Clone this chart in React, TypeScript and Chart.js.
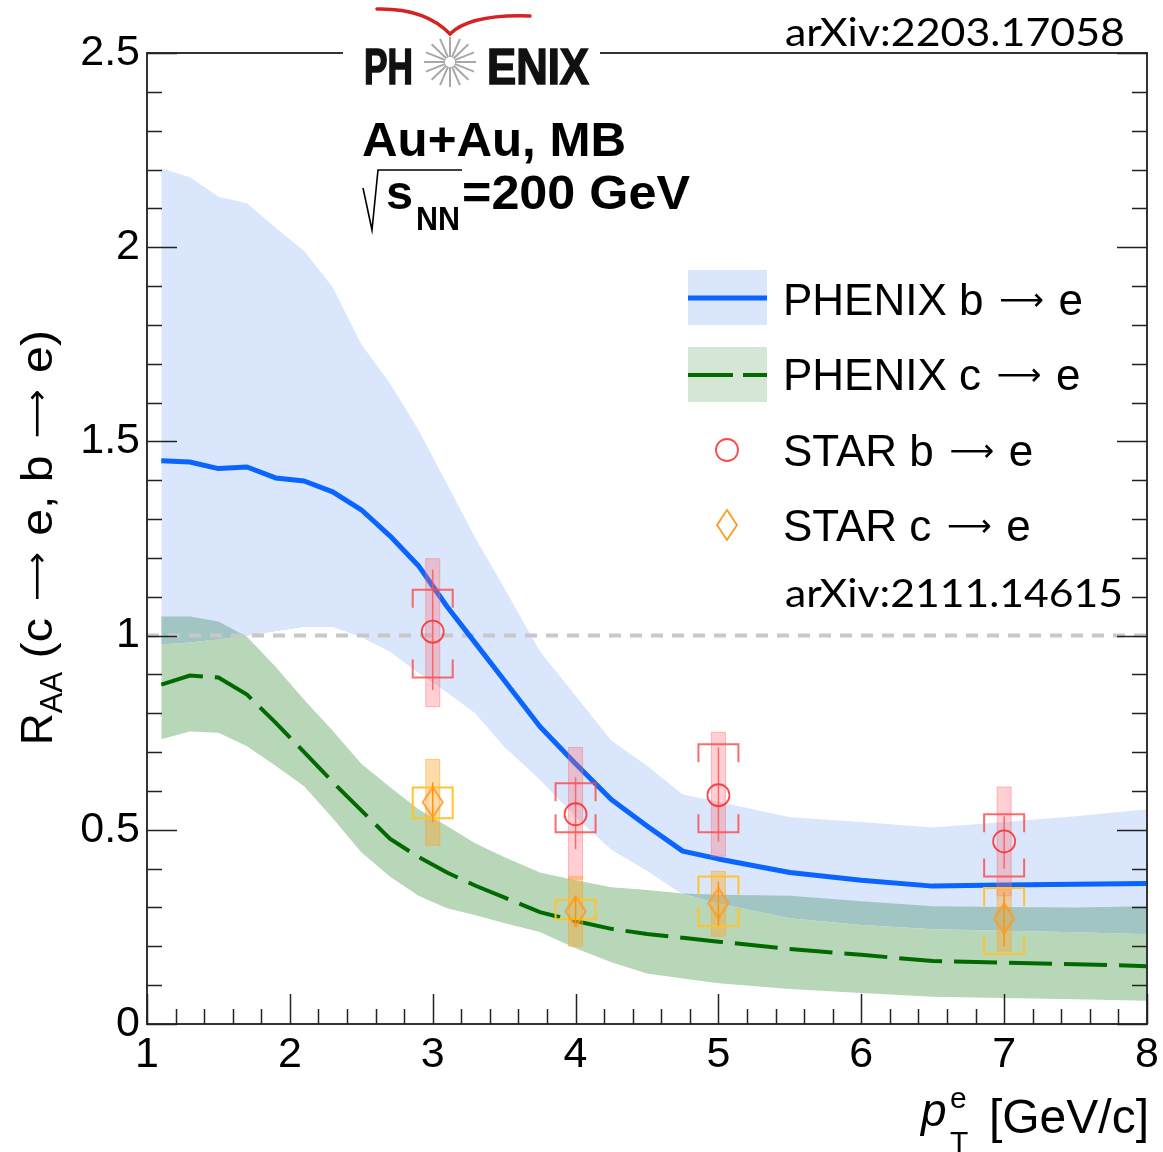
import React, { useEffect, useRef } from 'react';
import { Chart, registerables } from 'chart.js';

Chart.register(...registerables);

// ---- PHENIX bands / central curves (shared pT grid) ----
const gridX = [1.1, 1.3, 1.5, 1.7, 1.9, 2.1, 2.3, 2.5, 2.7, 2.9, 3.1, 3.3, 3.5, 3.75, 4.0, 4.25, 4.5, 4.75, 5.0, 5.5, 6.0, 6.5, 7.0, 7.5, 8.0];
const phenixB = [1.45, 1.447, 1.43, 1.434, 1.406, 1.398, 1.37, 1.324, 1.257, 1.18, 1.075, 0.98, 0.885, 0.766, 0.67, 0.578, 0.51, 0.445, 0.425, 0.39, 0.37, 0.355, 0.358, 0.36, 0.362];
const phenixBUpper = [2.203, 2.18, 2.13, 2.113, 2.05, 1.99, 1.897, 1.75, 1.65, 1.53, 1.39, 1.25, 1.123, 0.96, 0.845, 0.73, 0.665, 0.591, 0.572, 0.532, 0.52, 0.506, 0.52, 0.535, 0.553];
const phenixBLower = [0.977, 0.982, 0.99, 1.0, 1.012, 1.023, 1.023, 0.997, 0.96, 0.905, 0.855, 0.8, 0.715, 0.63, 0.535, 0.45, 0.395, 0.335, 0.31, 0.272, 0.255, 0.244, 0.24, 0.236, 0.231];
const phenixC = [0.874, 0.897, 0.892, 0.848, 0.776, 0.7, 0.623, 0.55, 0.477, 0.43, 0.39, 0.356, 0.326, 0.288, 0.265, 0.245, 0.232, 0.222, 0.212, 0.193, 0.178, 0.162, 0.158, 0.154, 0.149];
const phenixCUpper = [1.049, 1.049, 1.036, 0.997, 0.92, 0.835, 0.755, 0.67, 0.61, 0.553, 0.51, 0.465, 0.43, 0.39, 0.37, 0.352, 0.345, 0.336, 0.333, 0.33, 0.316, 0.303, 0.301, 0.3, 0.303];
const phenixCLower = [0.733, 0.753, 0.75, 0.715, 0.665, 0.612, 0.53, 0.442, 0.38, 0.33, 0.298, 0.28, 0.26, 0.237, 0.195, 0.159, 0.13, 0.117, 0.105, 0.09, 0.08, 0.07, 0.067, 0.064, 0.06];

// ---- STAR points ----
const starX = [3, 4, 5, 7];
const starB = [1.01, 0.54, 0.589, 0.47];
const starBStatLo = [0.86, 0.45, 0.47, 0.4];
const starBStatHi = [1.17, 0.635, 0.712, 0.535];
const starBSysLo = [0.892, 0.494, 0.494, 0.38];
const starBSysHi = [1.118, 0.62, 0.72, 0.54];
const starBBoxLo = [0.817, 0.373, 0.432, 0.33];
const starBBoxHi = [1.198, 0.712, 0.751, 0.61];
const starC = [0.571, 0.29, 0.311, 0.272];
const starCStatLo = [0.519, 0.25, 0.252, 0.2];
const starCStatHi = [0.622, 0.33, 0.367, 0.34];
const starCSysLo = [0.53, 0.27, 0.252, 0.18];
const starCSysHi = [0.609, 0.32, 0.38, 0.35];
const starCBoxLo = [0.46, 0.2, 0.226, 0.188];
const starCBoxHi = [0.681, 0.38, 0.393, 0.347];

const xTicks = [1, 2, 3, 4, 5, 6, 7, 8];
const yTicks = [0, 0.5, 1, 1.5, 2, 2.5];
const refLineX = [1, 8];
const refLineY = [1, 1];

const legendLabels = ['PHENIX b \u2192 e', 'PHENIX c \u2192 e', 'STAR b \u2192 e', 'STAR c \u2192 e'];

const SANS = '"Liberation Sans", Arial, sans-serif';
const ARROW_FONT_FAMILY = '"DejaVu Sans", sans-serif';
const LONG_ARROW = '\u27F6';
const BLUE_BAND = '#d9e6fb';
const GREEN_BAND = '#b8d6b8';
const TEAL = '#a0c5c3';
const BLUE_LINE = '#0a64ff';
const GREEN_LINE = '#006a00';
const DIAMOND = '#ff9a20';
const CIRCLE = 'rgba(255,40,40,0.85)';

function makeDiamond(): HTMLCanvasElement {
  const c = document.createElement('canvas');
  c.width = 24;
  c.height = 34;
  const g = c.getContext('2d')!;
  g.strokeStyle = DIAMOND;
  g.lineWidth = 1.8;
  g.beginPath();
  g.moveTo(12, 2);
  g.lineTo(22, 17);
  g.lineTo(12, 32);
  g.lineTo(2, 17);
  g.closePath();
  g.stroke();
  return c;
}

function fitText(ctx: CanvasRenderingContext2D, text: string, x: number, y: number, width: number, stroke = 0) {
  const w = ctx.measureText(text).width;
  ctx.save();
  ctx.translate(x, y);
  ctx.scale(width / w, 1);
  ctx.textAlign = 'left';
  ctx.fillText(text, 0, 0);
  if (stroke > 0) {
    ctx.lineWidth = stroke;
    ctx.strokeStyle = ctx.fillStyle as string;
    ctx.strokeText(text, 0, 0);
  }
  ctx.restore();
}

// draws a long thin arrow glyph, ~targetW wide, centred above the baseline; returns advance
function arrowGlyph(ctx: CanvasRenderingContext2D, x: number, y: number, size: number, targetW: number, draw: boolean): number {
  ctx.font = `${size}px ${ARROW_FONT_FAMILY}`;
  const m = ctx.measureText(LONG_ARROW);
  const inkW = (m.actualBoundingBoxRight + m.actualBoundingBoxLeft) || m.width;
  const k = targetW / inkW;
  const fs = size * k;
  ctx.font = `${fs}px ${ARROW_FONT_FAMILY}`;
  const m2 = ctx.measureText(LONG_ARROW);
  const a = m2.actualBoundingBoxAscent || 0;
  const d = m2.actualBoundingBoxDescent || 0;
  const lift = size * 0.33;
  const gap = size * 0.1;
  if (draw) {
    const yy = y - lift + (a - d) / 2;
    ctx.fillText(LONG_ARROW, x + gap + (m2.actualBoundingBoxLeft || 0), yy);
  }
  return targetW + 2 * gap;
}

// draws text where "→" is rendered as a long arrow; returns width
function arrowText(ctx: CanvasRenderingContext2D, text: string, x: number, y: number, size: number, draw = true): number {
  const parts = text.split('\u2192');
  let cx = x;
  parts.forEach((p, i) => {
    ctx.font = `${size}px ${SANS}`;
    if (draw) ctx.fillText(p, cx, y);
    cx += ctx.measureText(p).width;
    if (i < parts.length - 1) {
      cx += arrowGlyph(ctx, cx, y, size, size * 0.95, draw);
    }
  });
  return cx - x;
}

function drawStarErrors(chart: any, xsArr: number[], lo: number[], hi: number[], sLo: number[], sHi: number[], bLo: number[], bHi: number[], col: { box: string; boxEdge: string; bracket: string; stat: string }) {
  const ctx: CanvasRenderingContext2D = chart.ctx;
  const xs = chart.scales.x;
  const ys = chart.scales.y;
  ctx.save();
  for (let i = 0; i < xsArr.length; i++) {
    const px = xs.getPixelForValue(xsArr[i]);
    const y1 = ys.getPixelForValue(bHi[i]);
    const y2 = ys.getPixelForValue(bLo[i]);
    ctx.fillStyle = col.box;
    ctx.fillRect(px - 7, y1, 14, y2 - y1);
    ctx.strokeStyle = col.boxEdge;
    ctx.lineWidth = 1;
    ctx.strokeRect(px - 7, y1, 14, y2 - y1);
    const t = ys.getPixelForValue(sHi[i]);
    const b = ys.getPixelForValue(sLo[i]);
    const leg = Math.min(18, (b - t) / 2);
    ctx.strokeStyle = col.bracket;
    ctx.lineWidth = 2;
    ctx.beginPath();
    ctx.moveTo(px - 20, t + leg);
    ctx.lineTo(px - 20, t);
    ctx.lineTo(px + 20, t);
    ctx.lineTo(px + 20, t + leg);
    ctx.moveTo(px - 20, b - leg);
    ctx.lineTo(px - 20, b);
    ctx.lineTo(px + 20, b);
    ctx.lineTo(px + 20, b - leg);
    ctx.stroke();
    ctx.strokeStyle = col.stat;
    ctx.lineWidth = 1.5;
    ctx.beginPath();
    ctx.moveTo(px, ys.getPixelForValue(hi[i]));
    ctx.lineTo(px, ys.getPixelForValue(lo[i]));
    ctx.stroke();
  }
  ctx.restore();
}

function drawOverlay(chart: any, diamond: HTMLCanvasElement) {
  const ctx: CanvasRenderingContext2D = chart.ctx;
  const xs = chart.scales.x;
  const ys = chart.scales.y;
  const { left, right, top, bottom } = chart.chartArea;
  ctx.save();
  ctx.textBaseline = 'alphabetic';

  // frame
  ctx.strokeStyle = '#333';
  ctx.lineWidth = 2;
  ctx.strokeRect(left, top, right - left, bottom - top);

  // ticks
  ctx.strokeStyle = '#222';
  ctx.lineWidth = 1.5;
  ctx.beginPath();
  for (let v = 10; v <= 80; v += 2) {
    const px = Math.round(xs.getPixelForValue(v / 10)) + 0.5;
    const len = v % 10 === 0 ? 30 : 15;
    ctx.moveTo(px, bottom);
    ctx.lineTo(px, bottom - len);
  }
  for (let v = 0; v <= 25; v++) {
    const py = Math.round(ys.getPixelForValue(v / 10)) + 0.5;
    const len = v % 5 === 0 ? 30 : 15;
    ctx.moveTo(left, py);
    ctx.lineTo(left + len, py);
    ctx.moveTo(right, py);
    ctx.lineTo(right - len, py);
  }
  ctx.stroke();

  // PHENIX logo
  ctx.fillStyle = '#fff';
  ctx.fillRect(343, 46, 257, 12);
  ctx.fillStyle = '#111';
  ctx.font = `bold 50px ${SANS}`;
  fitText(ctx, 'PH', 364, 84, 49, 1.6);
  fitText(ctx, 'ENIX', 487, 84, 102, 1.6);
  ctx.strokeStyle = '#a8a8a8';
  ctx.lineWidth = 2;
  ctx.beginPath();
  for (let k = 0; k < 16; k++) {
    const a = (k * Math.PI) / 8;
    ctx.moveTo(450 + 5 * Math.cos(a), 62 + 5 * Math.sin(a));
    ctx.lineTo(450 + 26 * Math.cos(a), 62 + 25 * Math.sin(a));
  }
  ctx.stroke();
  ctx.strokeStyle = '#d42323';
  ctx.lineWidth = 3.5;
  ctx.lineCap = 'round';
  ctx.beginPath();
  ctx.moveTo(377, 9);
  ctx.quadraticCurveTo(425, 8, 450, 34);
  ctx.quadraticCurveTo(470, 14, 530, 16);
  ctx.stroke();
  ctx.lineCap = 'butt';

  // system labels
  ctx.fillStyle = '#000';
  ctx.font = `bold 48px ${SANS}`;
  fitText(ctx, 'Au+Au, MB', 362, 156, 264);
  ctx.strokeStyle = '#000';
  ctx.lineWidth = 1.6;
  ctx.beginPath();
  ctx.moveTo(363, 188);
  ctx.lineTo(372, 230);
  ctx.lineTo(378, 170);
  ctx.lineTo(462, 170);
  ctx.stroke();
  fitText(ctx, 's', 386, 209, 27);
  ctx.font = `bold 34px ${SANS}`;
  fitText(ctx, 'NN', 416, 230, 44);
  ctx.font = `bold 48px ${SANS}`;
  fitText(ctx, '=200 GeV', 462, 209, 228);

  // arXiv labels
  ctx.font = `39px Lato, "Open Sans", sans-serif`;
  fitText(ctx, 'arXiv:2203.17058', 785, 46, 340);
  fitText(ctx, 'arXiv:2111.14615', 785, 607, 338);

  // legend
  ctx.fillStyle = BLUE_BAND;
  ctx.fillRect(688, 270, 79, 55);
  ctx.strokeStyle = BLUE_LINE;
  ctx.lineWidth = 5;
  ctx.beginPath();
  ctx.moveTo(688, 298);
  ctx.lineTo(767, 298);
  ctx.stroke();
  ctx.fillStyle = '#d5e6d5';
  ctx.fillRect(688, 347, 79, 55);
  ctx.strokeStyle = GREEN_LINE;
  ctx.lineWidth = 4;
  ctx.beginPath();
  ctx.moveTo(688, 375);
  ctx.lineTo(733, 375);
  ctx.moveTo(743, 375);
  ctx.lineTo(767, 375);
  ctx.stroke();
  ctx.strokeStyle = CIRCLE;
  ctx.lineWidth = 1.8;
  ctx.beginPath();
  ctx.arc(727, 450, 11, 0, Math.PI * 2);
  ctx.stroke();
  ctx.drawImage(diamond, 727 - 12, 525 - 17);
  ctx.fillStyle = '#000';
  ctx.textAlign = 'left';
  const baselines = [315, 390, 466, 541];
  legendLabels.forEach((t, i) => arrowText(ctx, t, 783, baselines[i], 44));

  // y-axis title
  ctx.save();
  ctx.translate(52, 745);
  ctx.rotate(-Math.PI / 2);
  ctx.textAlign = 'left';
  ctx.font = `44px ${SANS}`;
  ctx.fillText('R', 0, 0);
  let w = ctx.measureText('R').width;
  ctx.font = `31px ${SANS}`;
  ctx.fillText('AA', w, 10);
  w += ctx.measureText('AA').width;
  const rest = ' (c \u2192 e, b \u2192 e)';
  const rw = arrowText(ctx, rest, 0, 0, 44, false);
  const sx = Math.max(0.9, Math.min(1.1, (415 - w) / rw));
  ctx.save();
  ctx.translate(w, 0);
  ctx.scale(sx, 1);
  arrowText(ctx, rest, 0, 0, 44);
  ctx.restore();
  ctx.restore();

  // x-axis title
  ctx.font = `48px ${SANS}`;
  ctx.textAlign = 'right';
  ctx.fillText('[GeV/c]', 1149, 1133);
  ctx.textAlign = 'left';
  ctx.font = `30px ${SANS}`;
  ctx.fillText('e', 950, 1108);
  ctx.fillText('T', 950, 1152);
  ctx.font = `italic 46px ${SANS}`;
  ctx.fillText('p', 921, 1126);

  ctx.restore();
}

export default function App() {
  const ref = useRef<HTMLCanvasElement>(null);
  useEffect(() => {
    document.body.style.margin = '0';
    const canvas = ref.current!;
    const diamond = makeDiamond();
    const pts = (ys: number[]) => gridX.map((x, i) => ({ x, y: ys[i] }));
    const sp = (ys: number[]) => starX.map((x, i) => ({ x, y: ys[i] }));
    const none = 'rgba(0,0,0,0)';
    const band = (data: any, fill: any) => ({ data, borderColor: none, borderWidth: 1, pointRadius: 0, fill, tension: 0 });

    const chart = new Chart(canvas, {
      type: 'line',
      data: {
        datasets: [
          { label: 'STAR b', data: sp(starB), showLine: false, pointStyle: 'circle', pointRadius: 11, pointBorderColor: CIRCLE, pointBackgroundColor: none, pointBorderWidth: 1.8, borderColor: none, fill: false } as any,
          { label: 'STAR c', data: sp(starC), showLine: false, pointStyle: diamond, pointRadius: 15, borderColor: none, fill: false } as any,
          { label: 'PHENIX b', data: pts(phenixB), borderColor: BLUE_LINE, borderWidth: 5, pointRadius: 0, fill: false, tension: 0, borderJoinStyle: 'round' } as any,
          { label: 'PHENIX c', data: pts(phenixC), borderColor: GREEN_LINE, borderWidth: 4, borderDash: [43, 12], pointRadius: 0, fill: false, tension: 0 } as any,
          { label: 'ref', data: refLineX.map((x, i) => ({ x, y: refLineY[i] })), borderColor: '#c8c8c8', borderWidth: 4, borderDash: [12, 9], pointRadius: 0, fill: false } as any,
          band(pts(phenixCUpper), { target: 7, above: TEAL, below: none }) as any,
          band(pts(phenixBUpper), { target: 7, above: BLUE_BAND, below: BLUE_BAND }) as any,
          band(pts(phenixBLower), false) as any,
          band(pts(phenixCUpper), { target: 9, above: GREEN_BAND, below: GREEN_BAND }) as any,
          band(pts(phenixCLower), false) as any,
        ],
      },
      options: {
        animation: false,
        responsive: false,
        devicePixelRatio: 1,
        events: [],
        layout: { padding: { top: 53, right: 16, left: 0, bottom: 0 } },
        plugins: { legend: { display: false }, tooltip: { enabled: false } },
        scales: {
          x: {
            type: 'linear',
            min: 1,
            max: 8,
            afterFit: (s: any) => { s.height = 128; s.paddingLeft = 0; s.paddingRight = 0; },
            afterBuildTicks: (s: any) => { s.ticks = xTicks.map((v) => ({ value: v })); },
            grid: { display: false, drawTicks: false },
            border: { display: false },
            ticks: { font: { family: SANS, size: 43 }, color: '#000', padding: 5, maxRotation: 0, autoSkip: false, callback: (v: any) => String(v) },
          },
          y: {
            type: 'linear',
            min: 0,
            max: 2.5,
            afterFit: (s: any) => { s.width = 147; s.paddingTop = 0; s.paddingBottom = 0; },
            afterBuildTicks: (s: any) => { s.ticks = yTicks.map((v) => ({ value: v })); },
            grid: { display: false, drawTicks: false },
            border: { display: false },
            ticks: { font: { family: SANS, size: 43 }, color: '#000', padding: 7, callback: (v: any) => String(v) },
          },
        },
      } as any,
      plugins: [
        {
          id: 'overlay',
          beforeDatasetDraw(c: any, args: any) {
            if (args.index !== 1) return;
            drawStarErrors(c, starX, starBStatLo, starBStatHi, starBSysLo, starBSysHi, starBBoxLo, starBBoxHi, {
              box: 'rgba(255,110,120,0.33)', boxEdge: 'rgba(255,110,120,0.45)', bracket: 'rgba(255,70,70,0.8)', stat: 'rgba(255,80,80,0.8)',
            });
            drawStarErrors(c, starX, starCStatLo, starCStatHi, starCSysLo, starCSysHi, starCBoxLo, starCBoxHi, {
              box: 'rgba(255,165,40,0.4)', boxEdge: 'rgba(255,165,40,0.5)', bracket: '#ffc42a', stat: '#ff9500',
            });
          },
          afterDraw(c: any) {
            drawOverlay(c, diamond);
          },
        },
      ],
    });
    return () => chart.destroy();
  }, []);
  return <canvas ref={ref} width={1163} height={1152} style={{ display: 'block', width: 1163, height: 1152 }} />;
}
